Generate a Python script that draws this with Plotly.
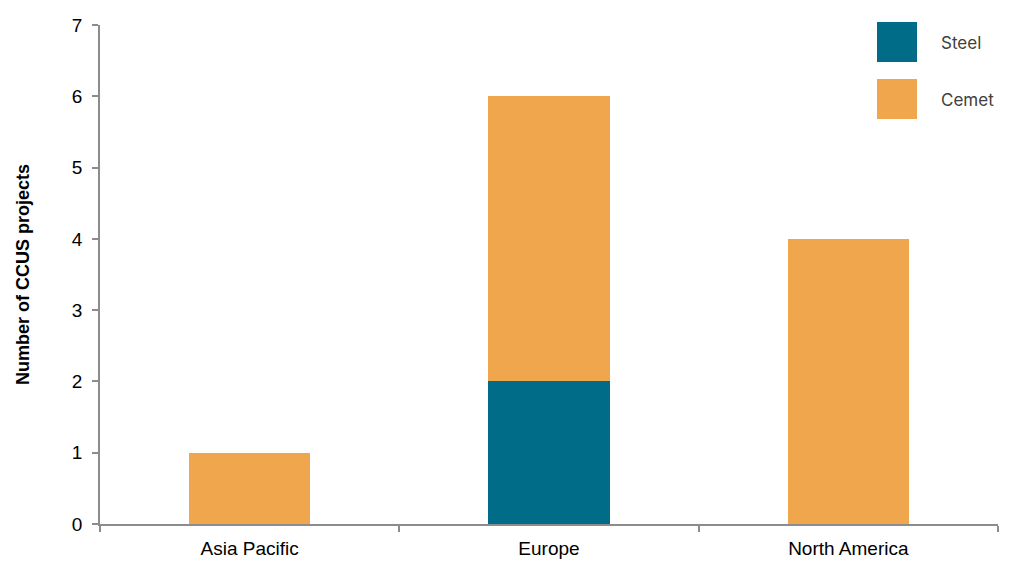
import plotly.graph_objects as go

categories = ["Asia Pacific", "Europe", "North America"]
steel = [0, 2, 0]
cement = [1, 4, 4]
series_names = ["Steel", "Cemet"]
colors = ["#006C87", "#F0A64C"]
y_ticks = [0, 1, 2, 3, 4, 5, 6, 7]

fig = go.Figure()
fig.add_trace(go.Bar(x=categories, y=steel, name=series_names[0], marker_color=colors[0],
                     marker_line_width=0, width=0.405, showlegend=False))
fig.add_trace(go.Bar(x=categories, y=cement, name=series_names[1], marker_color=colors[1],
                     marker_line_width=0, width=0.405, showlegend=False))

# custom legend with large squares
for i, (nm, c) in enumerate(zip(series_names, colors)):
    top = 22 + i * 57
    fig.add_shape(type="rect", xref="paper", yref="paper",
                  x0=(877 - 100) / 898, x1=(917 - 100) / 898,
                  y0=(524 - (top + 40)) / 499, y1=(524 - top) / 499,
                  fillcolor=c, line_width=0)
    fig.add_annotation(xref="paper", yref="paper", x=(939 - 100) / 898, y=(524 - (top + 21)) / 499,
                       text=nm, showarrow=False, xanchor="left", yanchor="middle",
                       font=dict(family="Inter, Liberation Sans", size=17, color="#404040"))

fig.update_layout(
    barmode="stack",
    width=1015, height=567,
    margin=dict(l=100, r=17, t=25, b=43),
    plot_bgcolor="white", paper_bgcolor="white",
    font=dict(family="Liberation Sans, Arial", size=19, color="#000000"),
    bargap=0,
)
fig.update_xaxes(showline=True, linecolor="#8c8c8c", linewidth=1.5, ticks="outside",
                 tickson="boundaries", ticklen=6, tickcolor="#8c8c8c", tickwidth=1.5,
                 range=[-0.5, 2.5], showgrid=False, tickfont=dict(size=19),
                 ticklabelstandoff=6, automargin=False)
fig.update_yaxes(showline=True, linecolor="#8c8c8c", linewidth=1.5, ticks="outside",
                 ticklen=6, tickcolor="#8c8c8c", tickwidth=1.5, range=[0, 7],
                 tickvals=y_ticks, showgrid=False, zeroline=False, tickfont=dict(size=19),
                 ticklabelstandoff=6, automargin=False,
                 title=dict(text="<b>Number of CCUS projects</b>", font=dict(size=18), standoff=38))

fig.write_html("out.html")
